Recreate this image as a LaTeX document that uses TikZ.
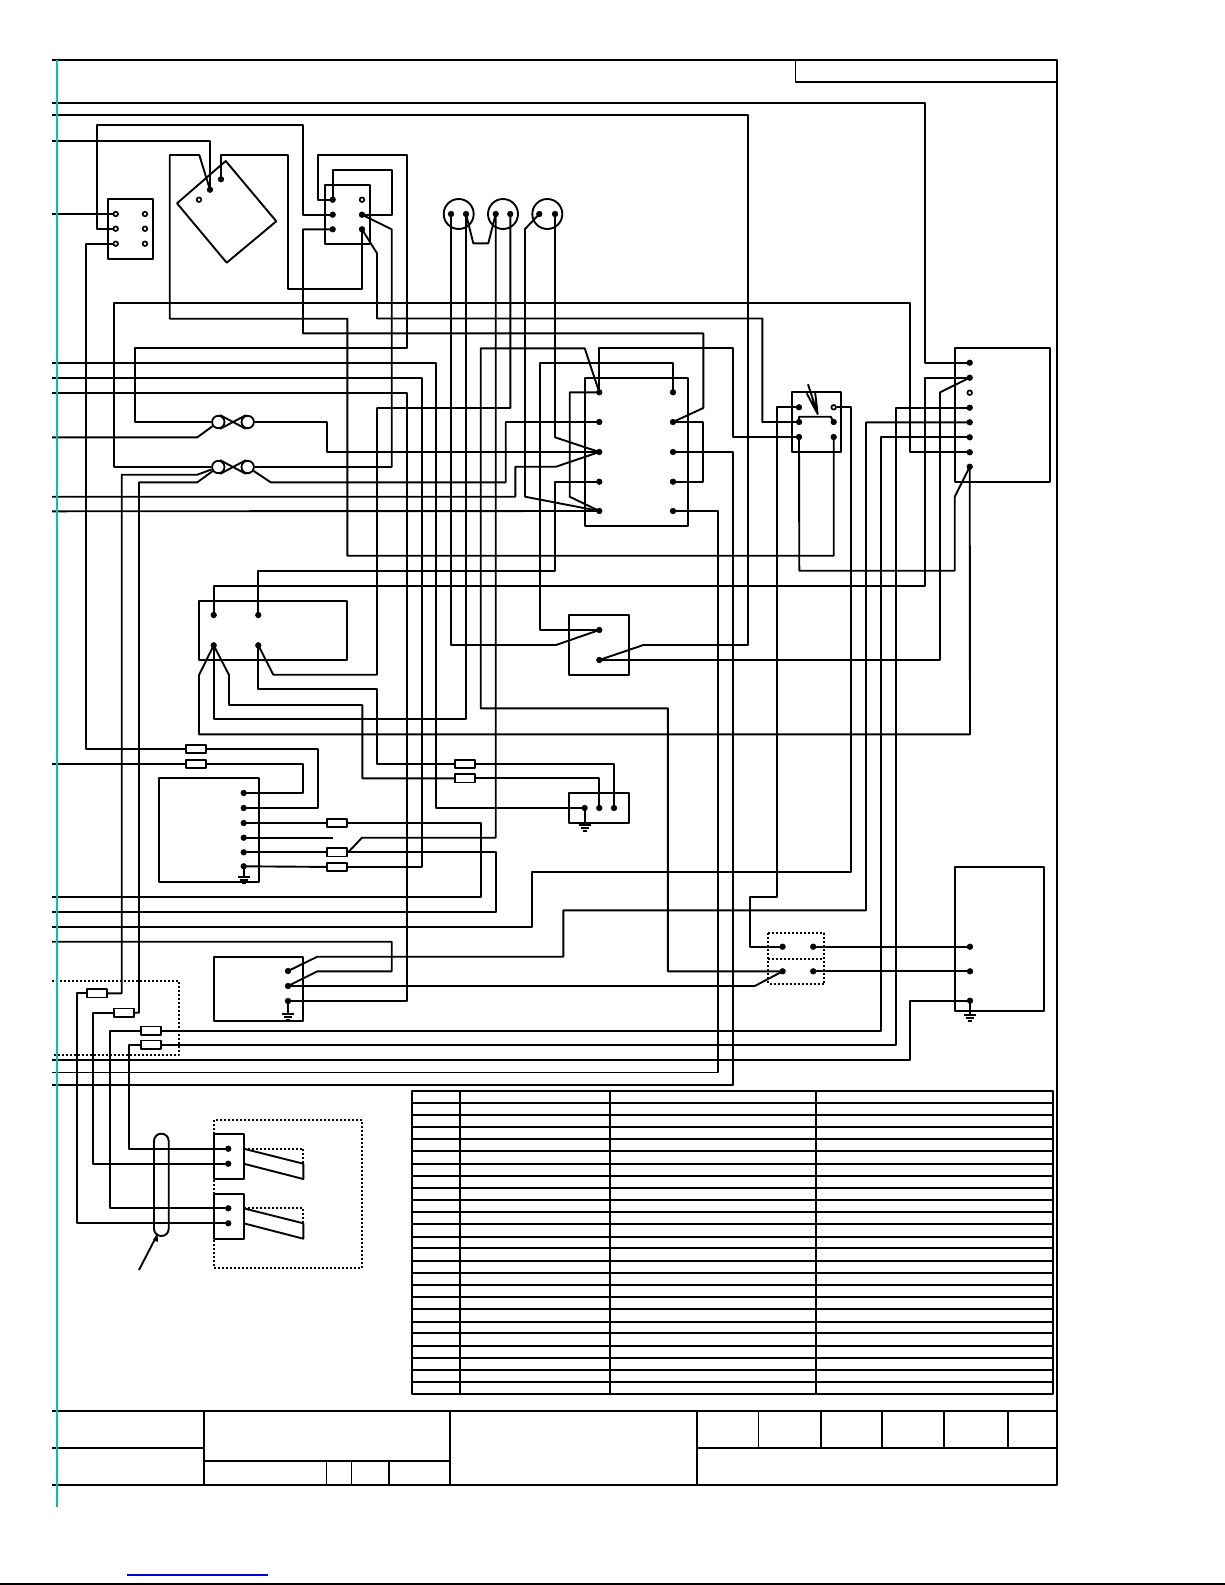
\documentclass[tikz,border=0pt]{standalone}
\begin{document}
\begin{tikzpicture}[x=0.5pt,y=-0.5pt,line width=0.95pt,line join=round,
  wire/.style={draw=black,line width=0.95pt},
  box/.style={draw=black,line width=0.95pt},
  pin/.style={circle,fill=black,draw=black,line width=0.3pt,inner sep=0pt,minimum size=2.8pt},
  hpin/.style={circle,fill=white,draw=black,line width=0.85pt,inner sep=0pt,minimum size=2.3pt},
  fuse/.style={rectangle,draw=black,fill=white,line width=0.85pt,inner sep=0pt,minimum width=10pt,minimum height=4.2pt},
  bow/.style={circle,draw=black,line width=0.9pt,inner sep=0pt,minimum size=6.2pt},
  dot/.style={draw=black,line width=0.95pt,dash pattern=on 1pt off 1pt},
  gnd/.pic={\draw[line width=1pt] (-6,0)--(6,0) (-4,3)--(4,3) (-2,6)--(2,6);}]
\useasboundingbox (0,0) rectangle (1225,1585);
\definecolor{tealline}{RGB}{0,190,200}
\definecolor{bluelink}{RGB}{0,0,225}
% page marks
\draw[line width=0.7pt,black] (0,1584)--(1225,1584);
\draw[line width=0.9pt,bluelink] (127,1575)--(268,1575);
% frame
\draw[box] (52,60)--(1057,60)--(1057,1485.3)--(52,1485.3);
\draw[box] (795.5,60)--(795.5,82)--(1057,82);
% title block
\draw[line width=1.15pt] (52,1410.7)--(1057,1410.7) (52,1447.7)--(204,1447.7) (204,1460.7)--(450,1460.7) (697,1447.7)--(1057,1447.7);
\draw[line width=0.8pt] (204,1410.7)--(204,1485.3) (450,1410.7)--(450,1485.3) (697,1410.7)--(697,1485.3)
 (326.6,1460.7)--(326.6,1485.3) (351.6,1460.7)--(351.6,1485.3) (389,1460.7)--(389,1485.3)
 (758.6,1410.7)--(758.6,1447.7) (821,1410.7)--(821,1447.7) (882,1410.7)--(882,1447.7) (944,1410.7)--(944,1447.7) (1008,1410.7)--(1008,1447.7);
% table
\draw[line width=1.05pt] (412,1090.7) rectangle (1053,1394);
\draw[line width=1.05pt] (460,1090.7)--(460,1394) (610,1090.7)--(610,1394) (815.6,1090.7)--(815.6,1394);
\foreach \ty in {1102.7,1115,1127,1139.3,1151.3,1163.7,1175.7,1187.7,1199.7,1212,1224.3,1236.7,1248,1261,1272.7,1284.7,1296.7,1308.7,1321.7,1333.3,1345.7,1357.7,1369.7,1382}
  \draw[line width=1.05pt] (412,\ty)--(1053,\ty);
% boxes
\draw[box] (108.3,199) rectangle (152.7,259);
\draw[box] (225.7,161)--(276.3,221.3)--(226.7,262.7)--(177,203.3)--cycle;
\draw[box] (325,184.7) rectangle (370,244);
\draw[box] (584.7,377.7) rectangle (688.3,526.3);
\draw[box] (791.7,392.3) rectangle (841.3,452);
\draw[box] (954.7,348.3) rectangle (1049.7,481.7);
\draw[box] (199,600.7) rectangle (347.3,659.7);
\draw[box] (569.4,615) rectangle (629,675);
\draw[box] (159.3,778.3) rectangle (259,882.3);
\draw[box] (569.4,792.7) rectangle (629,823);
\draw[box] (214,956.7) rectangle (303.3,1021);
\draw[box] (955,867.3) rectangle (1044,1011);
\draw[box] (214,1133.7) rectangle (243.7,1179);
\draw[box] (214,1193.7) rectangle (243.7,1238.7);
\draw[dot] (52,980.7)--(178.7,980.7)--(178.7,1055)--(52,1055);
\draw[dot] (214,1120) rectangle (362.3,1267.7);
\draw[dot] (768.3,933.3) rectangle (824.3,984);
\draw[dot] (768.3,959)--(824.3,959);
% plug blades
\draw[box] (243.7,1148.7)--(303.3,1163.7)--(303.3,1179)--(243.7,1163.7);
\draw[box] (243.7,1208.3)--(303.3,1223.3)--(303.3,1238.7)--(243.7,1223.3);
\draw[dot] (243.7,1148.7)--(303.3,1148.7)--(303.3,1163.7);
\draw[dot] (243.7,1208.3)--(303.3,1208.3)--(303.3,1223.3);
% cable clamp and its pointer
\draw[box,rounded corners=3.6pt] (154,1133.7) rectangle (168.7,1236);
\draw[box] (139,1270)--(155.5,1238);
\fill (157.5,1233)--(153,1240)--(158,1242)--cycle;
% lamp circles
\draw[box] (458.7,214) circle (15);
\draw[box] (503,214) circle (15);
\draw[box] (547.3,214) circle (15);
% pins
\foreach \n/\x/\y in {a1/115.7/214,a2/115.7/228.7,a3/115.7/243.7,a4/145/214,a5/145/228.7,a6/145/243.7,r3/199/199.7,c4/362/199.7,d4/833.7/407.3,m3/969.7/392.7}
  \node[hpin] (\n) at (\x,\y) {};
\foreach \n/\x/\y in {r1/210/189.7,r2/221/179.3,c1/332.7/199.7,c2/332.7/214.7,c3/332.7/229.3,c5/362/214.7,c6/362/229.3,
 s1a/451/214,s1b/466/214,s2a/495.7/214,s2b/510.3/214,s3a/539.3/214,s3b/555/214,
 k1/599.3/392.3,k2/599.3/422,k3/599.3/452,k4/599.3/481.7,k5/599.3/511,k6/673/392.3,k7/673/422,k8/673/452,k9/673/481.7,k10/673/511,
 d1/799/407.3,d2/799/422,d3/799/437,d5/833.7/422,d6/833.7/437,
 m1/969.7/362.7,m2/969.7/377.7,m4/969.7/407.7,m5/969.7/422.3,m6/969.7/437.3,m7/969.7/452.3,m8/969.7/466.7,
 t1/213.7/615,t2/258.3/615,t3/213.7/645.3,t4/258.3/645.3,w1/599.3/630,w2/599.3/660,
 b1/243.7/793,b2/243.7/808,b3/243.7/823,b4/243.7/837.7,b5/243.7/852.3,b6/243.7/866.3,
 g1/584.6/808,g2/599.3/808,g3/614/808,e1/288/971,e2/288/986,e3/288/1001,
 h1/782.6/946.7,h2/813.2/946.7,h3/782.6/971.3,h4/813.2/971.3,f1/970/946.7,f2/970/971.3,f3/970/1000.7,
 z1/228.3/1148.7,z2/228.3/1163.7,z3/228.3/1208.3,z4/228.3/1223.3}
  \node[pin] (\n) at (\x,\y) {};
% fuses
\foreach \n/\x/\y in {fa/195.7/749,fb/195.7/764,fc/337.3/823,fd/337.3/852.3,fe/337.3/867,ff/465/764,fg/465/778.3,fh/97/993.3,fi/124/1012.7,fj/151/1030.7,fk/151/1044.7}
  \node[fuse] (\n) at (\x,\y) {};
% twist connectors
\node[bow] (bl) at (218.3,422) {};
\node[bow] (br) at (247.7,422) {};
\node[bow] (cl) at (218.3,467) {};
\node[bow] (cr) at (247.7,467) {};
\draw[wire] (bl.75)--(br.255) (bl.-75)--(br.105);
\draw[wire] (cl.75)--(cr.255) (cl.-75)--(cr.105);
% free ends at the left border
\foreach \n/\y in {l1/103,l2/115,l3/140.7,l4/214,l5/363,l6/377.7,l7/392.7,l8/437.3,l9/496.7,l10/511.3,l11/764,l12/897.3,l13/912,l14/927,l15/941.7,l16/1059.7,l17/1072.5,l18/1085}
  \coordinate (\n) at (52,\y);
\coordinate (b4end) at (333.3,837.7);
% wires
\draw[wire] (l1)--(925,103)--(925,362.7)--(m1.center);
\draw[wire] (l2)--(748,115)--(748,645)--(643.4,645)--(w2.center);
\draw[wire] (l3)--(210,140.7)--(r1.center);
\draw[wire] (l4)--(a1);
\draw[wire] (a2)--(97.3,228.7)--(97.3,125)--(303.3,125)--(303.3,214.7)--(c2.center);
\draw[wire] (a3)--(86,243.7)--(86,749)--(fa);
\draw[wire] (fa)--(317.7,749)--(317.7,808)--(b2.center);
\draw[wire] (l11)--(fb);
\draw[wire] (fb)--(302.7,764)--(302.7,793)--(b1.center);
\draw[wire] (r1.center)--(199.3,155)--(169.7,155)--(169.7,318.7)--(347.3,318.7)--(347.3,555.7)--(833.7,555.7)--(d6.center);
\draw[wire] (r2.center)--(221,155)--(288.3,155)--(288.3,289)--(362,289)--(c6.center);
\draw[wire] (c1.center)--(317.7,199.7)--(317.7,155)--(406.7,155)--(406.7,348)--(134.7,348)--(134.7,422)--(bl);
\draw[wire] (c1.center)--(332.7,170)--(391.7,170)--(391.7,214.7)--(c5.center);
\draw[wire] (c5.center)--(391.7,229.3)--(391.7,467)--(cr);
\draw[wire] (c3.center)--(303,229.3)--(303,333.3)--(703.3,333.3)--(703.3,408)--(k7.center);
\draw[wire] (c6.center)--(377,253.3)--(377,318.5)--(762.3,318.5)--(762.3,422)--(d2.center);
\draw[wire] (m7.center)--(910.3,452.3)--(910.3,303.3)--(114,303.3)--(114,467)--(cl);
\draw[wire] (l8)--(197.3,437.3)--(bl);
\draw[wire] (br)--(327.3,422)--(327.3,452)--(k3.center);
\draw[wire] (z4.center)--(76.7,1223.3)--(76.7,993.3)--(fh);
\draw[wire] (fh)--(121.7,993.3)--(121.7,474.7)--(197.3,474.7)--(cl);
\draw[wire] (z2.center)--(92.7,1163.7)--(92.7,1012.7)--(fi);
\draw[wire] (fi)--(139,1012.7)--(139,482.3)--(197.3,482.3)--(cl);
\draw[wire] (cr)--(270.7,482.3)--(505.7,482.3)--(505.7,422)--(k2.center);
\draw[wire] (s1a.center)--(451,645)--(556,645)--(w1.center);
\draw[wire] (s1b.center)--(466,719.3)--(213.7,719.3)--(t3.center);
\draw[wire] (s1b.center)--(473.3,243.3)--(488.3,243.3)--(s2a.center);
\draw[wire] (s2a.center)--(495.7,837.7)--(362,837.7)--(fd.east);
\draw[wire] (s2b.center)--(510.3,408)--(377,408)--(377,674.7)--(273.3,674.7)--(t4.center);
\draw[wire] (s3a.center)--(525,229)--(525,496.7)--(k5.center);
\draw[wire] (s3b.center)--(555,437.3)--(k3.center);
\draw[wire] (k3.center)--(556,466.7)--(515.3,466.7)--(515.3,496.7)--(l9);
\draw[wire] (l10)--(k5.center);
\draw[wire] (k4.center)--(555,481.7)--(555,570.7)--(258.3,570.7)--(t2.center);
\draw[wire] (t1.center)--(213.7,585.7)--(925,585.7)--(925,377.7)--(m2.center);
\draw[wire] (k1.center)--(584.7,348.3)--(480.7,348.3)--(480.7,708.3)--(667.9,708.3)--(667.9,971.3)--(h3.center);
\draw[wire] (k1.center)--(569.7,392.3)--(569.7,496.7)--(k5.center);
\draw[wire] (k1.center)--(599.3,348.3)--(732.7,348.3)--(732.7,437)--(d3.center);
\draw[wire] (k6.center)--(673,363)--(540,363)--(540,630)--(w1.center);
\draw[wire] (k7.center)--(703.3,422)--(703.3,481.7)--(k9.center);
\draw[wire] (k8.center)--(732.7,452)--(732.7,1085)--(l18);
\draw[wire] (k10.center)--(718,511)--(718,1072.5)--(l17);
\draw[wire] (d1.center)--(777,407.3)--(777,897)--(750.3,897)--(750.3,946.7)--(h1.center);
\draw[wire] (d4)--(851,407.3)--(851,872)--(532.3,872)--(532.3,927)--(l14);
\draw[wire] (d2.center)--(799,416.7)--(830.7,416.7)--(d5.center);
\draw[wire] (d3.center)--(799.3,570.7)--(954.7,570.7)--(954.7,496.7)--(m8.center);
\draw[wire] (808,384.3)--(817.7,414)--(806.7,393.3) (815,391.7)--(817.7,414);
\draw[wire] (m4.center)--(895.7,407.7)--(895.7,1044.7)--(fk);
\draw[wire] (fk)--(129,1044.7)--(129,1148.7)--(z1.center);
\draw[wire] (m6.center)--(881,437.3)--(881,1030.7)--(fj);
\draw[wire] (fj)--(110.3,1030.7)--(110.3,1208.3)--(z3.center);
\draw[wire] (m5.center)--(866,422.3)--(866,910.3)--(563.3,910.3)--(563.3,956.7)--(317.3,956.7)--(e1.center);
\draw[wire] (m2.center)--(940,392.3)--(940,660)--(w2.center);
\draw[wire] (m8.center)--(970,734.3)--(199,734.3)--(199,675)--(t3.center);
\draw[wire] (t3.center)--(229,675)--(229,705)--(362.3,705)--(362.3,778.3)--(fg);
\draw[wire] (fg)--(599.3,778.3)--(g2.center);
\draw[wire] (t4.center)--(258.3,689.3)--(377,689.3)--(377,764)--(ff);
\draw[wire] (ff)--(614,764)--(g3.center);
\draw[wire] (l5)--(436.3,363)--(436.3,808)--(g1.center);
\draw[wire] (l6)--(421.7,377.7)--(421.7,867)--(fe);
\draw[wire] (fe)--(b6.center);
\draw[wire] (l7)--(406.7,392.7)--(406.7,1001)--(e3.center);
\draw[wire] (b3.center)--(fc);
\draw[wire] (fc)--(480.8,823)--(480.8,897.3)--(l12);
\draw[wire] (b4.center)--(b4end);
\draw[wire] (b5.center)--(fd);
\draw[wire] (fd)--(496,852.3)--(496,912)--(l13);
\draw[wire] (e2.center)--(317.3,971.3)--(391.7,971.3)--(391.7,941.7)--(l15);
\draw[wire] (e2.center)--(754.8,986)--(h3.center);
\draw[wire] (h2.center)--(f1.center);
\draw[wire] (h4.center)--(f2.center);
\draw[wire] (l16)--(910.4,1059.7)--(910.4,1000.7)--(f3.center);
% grounds
\draw[wire] (b6.center)--++(0,10.7) pic{gnd};
\draw[wire] (g1.center)--++(0,17) pic{gnd};
\draw[wire] (e3.center)--++(0,13) pic{gnd};
\draw[wire] (f3.center)--++(0,14.5) pic{gnd};
% alignment line at the left edge
\draw[line width=0.85pt,tealline] (57,60)--(57,1507);
\end{tikzpicture}
\end{document}
